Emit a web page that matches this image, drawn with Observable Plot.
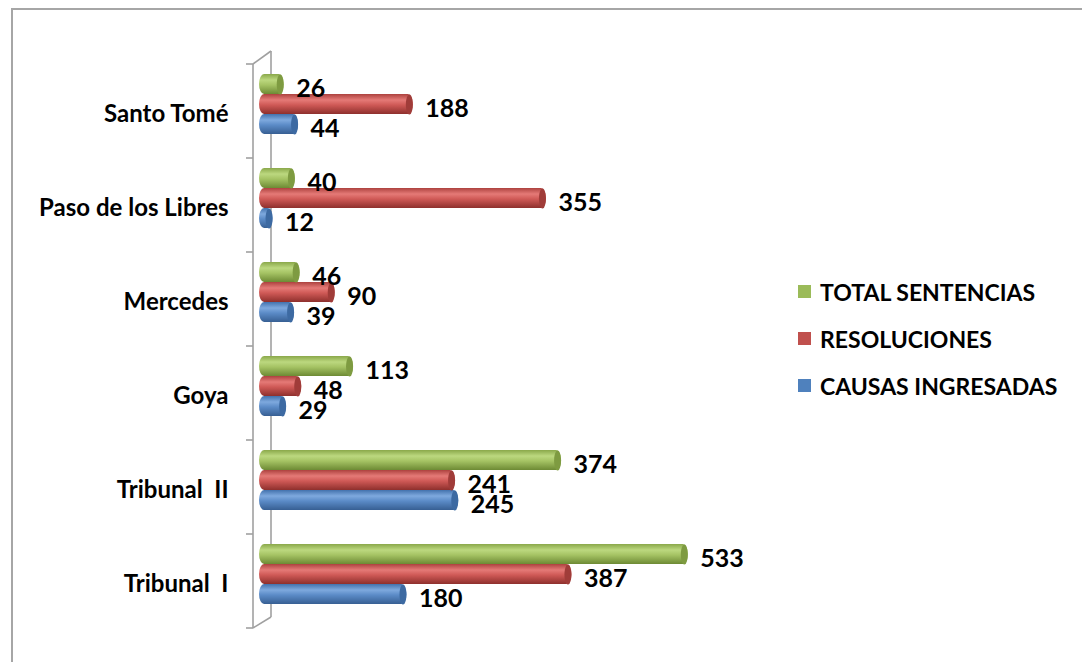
<!DOCTYPE html>
<html>
<head>
<meta charset="utf-8">
<script src="https://cdn.jsdelivr.net/npm/d3@7"></script>
<script src="https://cdn.jsdelivr.net/npm/@observablehq/plot@0.6"></script>
<style>
  html, body { margin: 0; padding: 0; background: #fff; }
  #wrap { position: relative; width: 1082px; height: 662px; overflow: hidden; font-family: Lato, "Open Sans", sans-serif; }
  #frame { position: absolute; left: 11px; top: 8px; width: 1200px; height: 800px; border-left: 2px solid #a6a6a6; border-top: 2px solid #a6a6a6; }
  #chart { position: absolute; left: 0; top: 0; }
  #legend { position: absolute; left: 798px; top: 268px; }
  .item { display: flex; align-items: center; height: 47px; font-weight: bold; font-size: 23px; color: #000; }
  .sw { width: 13px; height: 13px; margin-right: 9px; }
  svg text { white-space: pre; }
</style>
</head>
<body>
<div id="wrap">
  <div id="frame"></div>
  <div id="chart"></div>
  <div id="legend"></div>
</div>
<script>
const categories = ["Santo Tomé", "Paso de los Libres", "Mercedes", "Goya", "Tribunal  II", "Tribunal  I"];
const series = ["TOTAL SENTENCIAS", "RESOLUCIONES", "CAUSAS INGRESADAS"];
const totalSentencias = [26, 40, 46, 113, 374, 533];
const resoluciones = [188, 355, 90, 48, 241, 387];
const causasIngresadas = [44, 12, 39, 29, 245, 180];
const baseColors = ["#9BBB59", "#C0504D", "#4F81BD"];

const seriesValues = [totalSentencias, resoluciones, causasIngresadas];
const data = [];
categories.forEach((c, i) => {
  series.forEach((s, j) => data.push({category: c, series: s, value: seriesValues[j][i]}));
});

const gradStops = [
  ["#8aa84a", "#bcd87f", "#a5c364", "#6d8a34"],
  ["#ad423f", "#e57a77", "#cf5956", "#8e302d"],
  ["#4372ad", "#7ea9de", "#5b8bc7", "#375f93"]
];
const capColors = ["#7e9b41", "#a03c39", "#3d6aa2"];

const ellipse = {
  draw(ctx) {
    const rx = 3.5, ry = 10, n = 24;
    for (let k = 0; k <= n; k++) {
      const a = (k / n) * 2 * Math.PI;
      const px = rx * Math.cos(a), py = ry * Math.sin(a);
      if (k === 0) ctx.moveTo(px, py); else ctx.lineTo(px, py);
    }
    ctx.closePath();
  }
};

const plot = Plot.plot({
  width: 1082,
  height: 662,
  marginLeft: 259,
  marginRight: 340,
  marginTop: 64,
  marginBottom: 34,
  style: {fontFamily: "Lato, 'Open Sans', sans-serif", background: "transparent", overflow: "visible"},
  x: {domain: [0, 606], axis: null},
  y: {domain: series, axis: null, paddingInner: 0, paddingOuter: 0.75, align: 0.3},
  fy: {domain: categories, padding: 0, axis: null},
  color: {domain: series, range: series.map((s, j) => `url(#grad${j})`)},
  marks: [
    Plot.axisFy({anchor: "left", label: null, tickSize: 0, tickPadding: 31, dy: 3, fontSize: 24, fontWeight: "bold", fill: "#000"}),
    Plot.barX(data, {x: "value", y: "series", fy: "category", fill: "series", rx: 5, ry: 10, insetRight: -4}),
    ...series.map((s, j) => Plot.dot(data.filter(d => d.series === s), {
      x: "value", y: "series", fy: "category", symbol: ellipse, r: 4, fill: capColors[j], stroke: "none", dx: 0
    })),
    Plot.text(data, {x: "value", y: "series", fy: "category", text: d => String(d.value), dx: 16, dy: 4,
      textAnchor: "start", fontSize: 25, fontWeight: "bold", fill: "#000"})
  ]
});

// gradients for cylinder shading
const ns = "http://www.w3.org/2000/svg";
const defs = document.createElementNS(ns, "defs");
gradStops.forEach((stops, j) => {
  const g = document.createElementNS(ns, "linearGradient");
  g.setAttribute("id", `grad${j}`);
  g.setAttribute("x1", "0"); g.setAttribute("y1", "0"); g.setAttribute("x2", "0"); g.setAttribute("y2", "1");
  [0, 0.3, 0.55, 1].forEach((o, k) => {
    const st = document.createElementNS(ns, "stop");
    st.setAttribute("offset", o);
    st.setAttribute("stop-color", stops[k]);
    g.appendChild(st);
  });
  defs.appendChild(g);
});
plot.insertBefore(defs, plot.firstChild);

// 3D axis wall drawn from the plot's own scales
const xs = plot.scale("x");
const fys = plot.scale("fy");
const x0 = xs.apply(0);
const bw = fys.bandwidth ?? (fys.step);
const tops = categories.map(c => fys.apply(c));
const yTop = Math.min(...tops);
const yBot = Math.max(...tops) + bw;
const front = x0 - 6, back = x0 + 12, depth = 13;
const wall = d3.create("svg:g").attr("stroke", "#a0a0a0").attr("stroke-width", 1.6).attr("fill", "none");
wall.append("line").attr("x1", front).attr("x2", front).attr("y1", yTop).attr("y2", yBot);
wall.append("line").attr("x1", back).attr("x2", back).attr("y1", yTop - depth).attr("y2", yBot - depth + 2);
wall.append("line").attr("x1", front).attr("x2", back).attr("y1", yTop).attr("y2", yTop - depth);
wall.append("line").attr("x1", front).attr("x2", back).attr("y1", yBot).attr("y2", yBot - depth + 2);
[...tops, yBot].forEach(y => {
  wall.append("line").attr("x1", front - 7).attr("x2", front).attr("y1", y).attr("y2", y);
});
plot.insertBefore(wall.node(), defs.nextSibling);

document.getElementById("chart").appendChild(plot);

// legend
const legend = document.getElementById("legend");
series.forEach((s, j) => {
  const it = document.createElement("div");
  it.className = "item";
  it.innerHTML = `<div class="sw" style="background:${baseColors[j]}"></div><span>${s}</span>`;
  legend.appendChild(it);
});
</script>
</body>
</html>
